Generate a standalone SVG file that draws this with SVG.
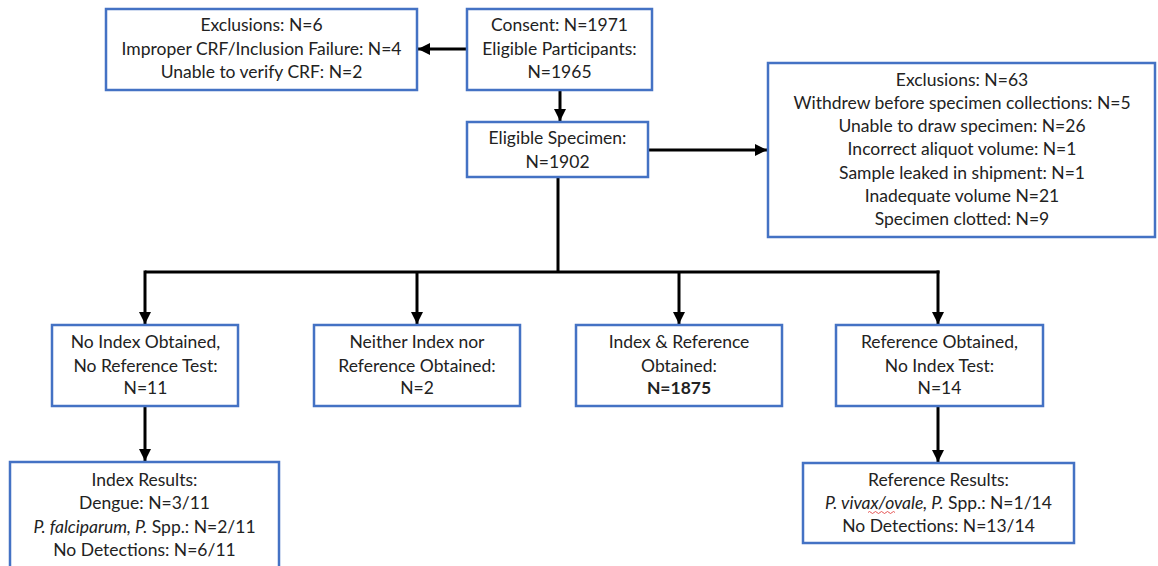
<svg xmlns="http://www.w3.org/2000/svg" width="1158" height="566" viewBox="0 0 1158 566">
<defs>
<style>
.box{fill:#fff;stroke:#4472C4;stroke-width:2.5}
.t{font-family:Lato,"Liberation Sans",sans-serif;font-size:17.5px;fill:#222;text-anchor:middle}
.c{fill:none;stroke:#000;stroke-width:3}
.i{font-style:italic}
</style>
<marker id="ah" markerUnits="userSpaceOnUse" markerWidth="12" markerHeight="12" viewBox="0 0 12 12" refX="12" refY="6" orient="auto">
<path d="M0,0 L12,6 L0,12 Z" fill="#000"/>
</marker>
</defs>
<rect width="1158" height="566" fill="#fff"/>
<g id="connectors">
<line class="c" x1="467" y1="49" x2="418" y2="49" marker-end="url(#ah)"/>
<line class="c" x1="560" y1="90" x2="560" y2="121" marker-end="url(#ah)"/>
<line class="c" x1="648" y1="150" x2="767" y2="150" marker-end="url(#ah)"/>
<polyline class="c" points="558,177 558,272"/>
<line class="c" x1="145" y1="272" x2="939.5" y2="272"/>
<line class="c" x1="145" y1="270.5" x2="145" y2="324" marker-end="url(#ah)"/>
<line class="c" x1="417" y1="272" x2="417" y2="324" marker-end="url(#ah)"/>
<line class="c" x1="679" y1="272" x2="679" y2="324" marker-end="url(#ah)"/>
<line class="c" x1="938" y1="270.5" x2="938" y2="324" marker-end="url(#ah)"/>
<line class="c" x1="145" y1="406" x2="145" y2="461" marker-end="url(#ah)"/>
<line class="c" x1="938" y1="407" x2="938" y2="462" marker-end="url(#ah)"/>
</g>
<g id="excl1">
<rect class="box" x="106" y="9" width="311" height="81"/>
<text class="t" x="261.5" y="31">Exclusions: N=6</text>
<text class="t" x="261.5" y="55">Improper CRF/Inclusion Failure: N=4</text>
<text class="t" x="261.5" y="78">Unable to verify CRF: N=2</text>
</g>
<g id="consent">
<rect class="box" x="467" y="9" width="185" height="81"/>
<text class="t" x="559.5" y="31">Consent: N=1971</text>
<text class="t" x="559.5" y="55">Eligible Participants:</text>
<text class="t" x="559.5" y="78">N=1965</text>
</g>
<g id="specimen">
<rect class="box" x="467" y="122" width="181" height="55"/>
<text class="t" x="557.5" y="144">Eligible Specimen:</text>
<text class="t" x="557.5" y="168">N=1902</text>
</g>
<g id="excl2">
<rect class="box" x="768" y="63" width="387" height="174"/>
<text class="t" x="962" y="86">Exclusions: N=63</text>
<text class="t" x="962" y="109">Withdrew before specimen collections: N=5</text>
<text class="t" x="962" y="132">Unable to draw specimen: N=26</text>
<text class="t" x="962" y="155">Incorrect aliquot volume: N=1</text>
<text class="t" x="962" y="178.5">Sample leaked in shipment: N=1</text>
<text class="t" x="962" y="201.5">Inadequate volume N=21</text>
<text class="t" x="962" y="224.5">Specimen clotted: N=9</text>
</g>
<g id="noindex">
<rect class="box" x="52" y="325" width="186" height="81"/>
<text class="t" x="145.5" y="348">No Index Obtained,</text>
<text class="t" x="145.5" y="372">No Reference Test:</text>
<text class="t" x="145.5" y="394">N=11</text>
</g>
<g id="neither">
<rect class="box" x="314" y="325" width="206" height="81"/>
<text class="t" x="417" y="348">Neither Index nor</text>
<text class="t" x="417" y="372">Reference Obtained:</text>
<text class="t" x="417" y="394">N=2</text>
</g>
<g id="both">
<rect class="box" x="576" y="325" width="206" height="81"/>
<text class="t" x="679" y="348">Index &amp; Reference</text>
<text class="t" x="679" y="372">Obtained:</text>
<text class="t" x="679" y="394" font-weight="bold">N=1875</text>
</g>
<g id="refonly">
<rect class="box" x="836" y="325" width="207" height="81"/>
<text class="t" x="939.5" y="348">Reference Obtained,</text>
<text class="t" x="939.5" y="372">No Index Test:</text>
<text class="t" x="939.5" y="394">N=14</text>
</g>
<g id="indexresults">
<rect class="box" x="10" y="462" width="269" height="110"/>
<text class="t" x="144.5" y="486">Index Results:</text>
<text class="t" x="144.5" y="509">Dengue: N=3/11</text>
<text class="t" x="144.5" y="532.5"><tspan class="i">P. falciparum, P.</tspan> Spp.: N=2/11</text>
<text class="t" x="144.5" y="556">No Detections: N=6/11</text>
</g>
<g id="refresults">
<rect class="box" x="803" y="463" width="271" height="80"/>
<text class="t" x="938.5" y="486">Reference Results:</text>
<text class="t" x="938.5" y="509"><tspan class="i">P. vivax/ovale, P.</tspan> Spp.: N=1/14</text>
<text class="t" x="938.5" y="532">No Detections: N=13/14</text>
<path d="M868,512.5 q1.5,-2 3,0 t3,0 t3,0 t3,0 t3,0 t3,0 t3,0 t3,0 t3,0" fill="none" stroke="#e03030" stroke-width="0.8"/>
</g>
</svg>
